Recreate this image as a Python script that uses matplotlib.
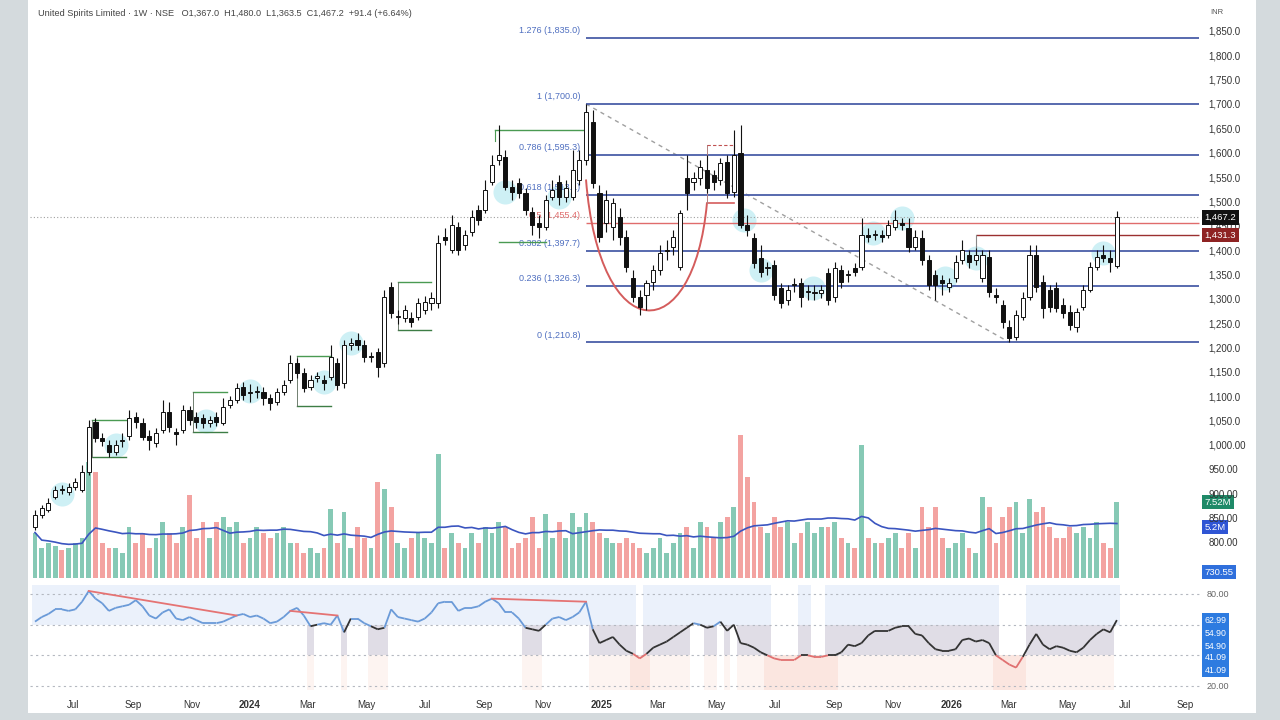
import matplotlib
matplotlib.use('Agg')
import matplotlib.pyplot as plt
import matplotlib.dates as mdates
from matplotlib.path import Path
from matplotlib.patches import PathPatch, Rectangle
from matplotlib.collections import LineCollection
import matplotlib.transforms as mtrans
import numpy as np
import pandas as pd

plt.rcParams['font.family'] = ['Liberation Sans', 'DejaVu Sans']

# ---------------- data ----------------
start_date = '2023-05-22'

opens = [832,856,866,893,910,903,914,908,944,1047,
         1014,1000,986,1008,1018,1057,1045,1018,1004,1031,
         1068,1027,1031,1072,1057,1055,1045,1057,1045,1082,
         1092,1119,1107,1109,1109,1096,1088,1109,1133,1168,
         1148,1119,1137,1133,1139,1168,1127,1205,1215,1205,
         1181,1191,1168,1324,1263,1261,1261,1263,1277,1291,
         1291,1427,1400,1447,1411,1437,1482,1482,1540,1585,
         1591,1530,1538,1517,1478,1456,1447,1509,1540,1509,
         1509,1544,1585,1663,1517,1456,1447,1468,1427,1343,
         1304,1308,1335,1359,1398,1406,1365,1548,1540,1548,
         1564,1554,1544,1581,1519,1599,1452,1425,1384,1363,
         1369,1322,1298,1328,1332,1314,1312,1312,1353,1304,
         1359,1349,1363,1365,1431,1431,1431,1431,1447,1456,
         1445,1406,1425,1380,1349,1339,1324,1343,1380,1390,
         1380,1343,1386,1308,1287,1242,1222,1263,1304,1390,
         1335,1318,1322,1287,1273,1242,1283,1318,1365,1390,
         1384,1367.0]
highs = [866,877,891,916,918,922,932,959,1051,1055,
         1024,1010,1010,1024,1072,1067,1055,1031,1035,1092,
         1088,1035,1082,1080,1067,1063,1059,1067,1096,1100,
         1127,1129,1125,1121,1119,1105,1117,1133,1185,1178,
         1158,1144,1150,1144,1205,1178,1215,1220,1230,1215,
         1191,1199,1318,1335,1277,1287,1273,1302,1306,1314,
         1431,1445,1472,1458,1441,1482,1493,1544,1595,1657,
         1606,1544,1548,1527,1489,1472,1513,1544,1554,1544,
         1606,1606,1700,1688,1534,1523,1507,1486,1441,1359,
         1318,1339,1369,1411,1421,1441,1482,1595,1560,1585,
         1595,1564,1589,1595,1647,1657,1472,1435,1411,1376,
         1380,1332,1328,1343,1343,1328,1328,1328,1363,1376,
         1369,1359,1374,1466,1445,1441,1441,1462,1482,1466,
         1466,1441,1441,1390,1359,1349,1343,1390,1421,1400,
         1404,1400,1400,1322,1298,1257,1277,1314,1411,1411,
         1349,1328,1335,1302,1287,1281,1328,1376,1400,1411,
         1400,1480.0]
lows = [825,850,862,889,899,897,908,903,938,1006,
        998,975,979,996,1010,1035,1010,990,996,1024,
        1027,1000,1024,1041,1035,1035,1037,1039,1041,1076,
        1086,1092,1088,1096,1082,1072,1082,1103,1127,1137,
        1109,1113,1129,1113,1133,1113,1117,1195,1195,1170,
        1170,1140,1160,1261,1248,1253,1242,1257,1269,1277,
        1281,1411,1394,1390,1400,1429,1452,1476,1534,1575,
        1523,1503,1507,1472,1431,1425,1441,1503,1493,1499,
        1503,1534,1575,1528,1417,1437,1421,1411,1355,1294,
        1267,1277,1318,1349,1380,1390,1359,1482,1523,1534,
        1517,1523,1534,1507,1509,1445,1429,1363,1345,1349,
        1298,1281,1287,1314,1283,1298,1298,1302,1287,1294,
        1322,1335,1347,1359,1417,1421,1417,1425,1441,1441,
        1396,1400,1369,1318,1298,1308,1314,1335,1372,1363,
        1369,1335,1304,1291,1240,1210.8,1215,1257,1298,1314,
        1261,1273,1273,1261,1236,1232,1277,1314,1359,1376,
        1355,1363.5]
closes = [856,871,881,908,908,914,924,944,1037,1014,
          1008,986,1000,1010,1055,1047,1016,1010,1024,1068,
          1037,1022,1072,1051,1047,1045,1051,1047,1078,1092,
          1117,1103,1109,1109,1096,1086,1109,1123,1168,1148,
          1117,1133,1141,1127,1181,1123,1205,1209,1205,1181,
          1183,1160,1304,1271,1263,1277,1252,1291,1294,1302,
          1415,1421,1452,1400,1431,1468,1462,1523,1575,1595,
          1530,1519,1517,1482,1452,1447,1503,1523,1509,1527,
          1564,1585,1684,1538,1427,1503,1497,1427,1365,1304,
          1283,1332,1359,1394,1398,1427,1476,1517,1548,1571,
          1527,1540,1579,1517,1595,1452,1441,1374,1355,1363,
          1308,1291,1318,1328,1304,1314,1312,1318,1298,1363,
          1335,1349,1355,1431,1427,1431,1427,1452,1462,1452,
          1406,1427,1380,1328,1328,1332,1332,1376,1400,1376,
          1390,1390,1314,1304,1252,1220,1267,1302,1390,1324,
          1281,1283,1281,1271,1246,1273,1318,1365,1386,1384,
          1376,1467.2]
volumes_m = [4.5,3.0,3.5,3.2,2.8,3.0,3.5,4.0,11.5,10.5,
             3.5,3.0,3.0,2.5,5.0,3.5,4.5,3.0,4.0,5.5,
             4.5,3.5,5.0,8.2,4.0,5.5,4.0,5.5,6.0,5.0,
             5.5,3.5,4.0,5.0,4.5,4.0,4.5,5.0,3.5,3.5,
             2.5,3.0,2.5,3.0,6.8,3.5,6.5,3.0,5.0,4.0,
             3.0,9.5,8.8,7.0,3.5,3.0,4.0,4.5,4.0,3.5,
             12.3,3.0,4.5,3.5,3.0,4.5,3.5,5.0,4.5,5.5,
             5.0,3.0,3.5,4.0,6.0,3.0,6.3,4.0,5.5,4.0,
             6.4,5.0,6.4,5.5,4.5,4.0,3.5,3.5,4.0,3.5,
             3.0,2.5,3.0,4.0,2.5,3.5,4.5,5.0,3.0,5.5,
             5.0,4.0,5.5,6.0,7.0,14.2,10.0,7.5,5.0,4.5,
             6.0,5.0,5.5,3.5,4.5,5.5,4.5,5.0,5.0,5.5,
             4.0,3.5,3.0,13.2,4.0,3.5,3.5,4.0,4.5,3.0,
             4.5,3.0,7.0,5.0,7.0,4.0,3.0,3.5,4.5,3.0,
             2.5,8.0,7.0,3.5,6.0,7.0,7.5,4.5,7.8,6.5,
             7.0,5.0,4.0,4.0,5.0,4.5,5.0,4.0,5.5,3.5,
             3.0,7.52]
rsi_values = [62,65,67,70,70,69,70,75,82,77,
              74,69,71,72,73,76,72,66,64,68,
              70,64,63,65,63,61,61,61,62,64,
              66,67,65,66,64,61,62,65,69,71,
              66,59,60,61,60,66,55,64,64,61,
              59,57,58,70,65,64,63,62,64,68,
              74,75,75,69,71,71,72,75,77,74,
              68,68,64,58,57,56,60,64,65,63,
              65,68,75,57,48,50,52,47,43,41,
              38,41,45,47,49,52,55,58,61,60,
              58,59,62,56,60,48,47,45,42,40,
              38,37,37,37,40,40,39,39,40,40,
              42,47,46,48,53,56,56,56,58,59,
              59,54,53,48,44,43,43,44,50,51,
              49,50,48,40,37,34,32,39,47,54,
              47,44,46,45,43,42,45,50,54,57,
              55,63]

fib_high = 1700.0
fib_low = 1210.8
fib_ratios = [1.276, 1, 0.786, 0.618, 0.5, 0.382, 0.236, 0]
price_ticks = list(range(800, 1851, 50))
month_ticks = pd.date_range('2023-07-01', '2026-09-01', freq='2MS')
rsi_tag_texts = ['62.99', '54.90', '54.90', '41.09', '41.09']
cyan_spots_idx = [4, 12, 25.5, 32, 43, 47, 70, 78, 105.5, 108, 115.8, 124.7, 129, 135.4, 140, 159]
cyan_spots_px = [900, 1000, 1050, 1110, 1130, 1210, 1520, 1510, 1462, 1360, 1322, 1435, 1466, 1343, 1384, 1394]
boxes = [(8.5, 13.5, 1051, 975), (23.5, 28.5, 1109, 1027), (39, 44, 1183, 1080), (54, 59, 1335, 1236)]

# ---------------- prep ----------------
n = len(closes)
dates = pd.date_range(start_date, periods=n, freq='7D')
xd = mdates.date2num(dates)
O = np.array(opens, float); H = np.array(highs, float)
L = np.array(lows, float); C = np.array(closes, float)
V = np.array(volumes_m, float); R = np.array(rsi_values, float)
up = C >= O

def xi(idx):
    return xd[0] + idx * 7.0

jan24 = mdates.date2num(pd.Timestamp('2024-01-01'))
x_left = jan24 - 229.2
x_right = jan24 + 989.6

fig = plt.figure(figsize=(12.8, 7.2), dpi=100, facecolor='#d4dadd')
fig.patches.append(Rectangle((28/1280, 7/720), 1228/1280, 713/720,
                             transform=fig.transFigure, fc='white', ec='none', zorder=-5))

ax = fig.add_axes([30/1280, 1-578/720, 1170/1280, 576/720])
ax_v = ax.twinx()
ax.set_zorder(2); ax_v.set_zorder(1)
ax.patch.set_visible(False)
ax_v.patch.set_visible(False)

ax.set_xlim(x_left, x_right)
ax.set_ylim(726.9, 1909.4)
ax_v.set_ylim(0, 57)

for a in (ax, ax_v):
    for s in a.spines.values():
        s.set_visible(False)
ax_v.set_yticks([])
ax.set_xticks([])

# volume
vcol = np.where(up, '#86c9b5', '#f3a3a1')
ax_v.bar(xd, V, width=5.0, color=vcol, linewidth=0)
vma = pd.Series(V).rolling(20, min_periods=1).mean().values
ax_v.plot(xd, vma, color='#3b55c0', lw=1.2)

# cyan highlight spots
ax.scatter([xi(i) for i in cyan_spots_idx], cyan_spots_px, s=300, color='#a6e4ee',
           alpha=0.55, linewidths=0, zorder=1)

# fib levels
fib_rng = fib_high - fib_low
for r in fib_ratios:
    lvl = fib_low + r * fib_rng
    col = '#e06c6c' if r == 0.5 else '#4a5ea8'
    tcol = '#e06c6c' if r == 0.5 else '#4f6fc0'
    ax.hlines(lvl, xd[82], x_right - 1, color=col, lw=1.3 if r != 0.5 else 1.0, zorder=1.2)
    lab = f"{r:g} ({lvl:,.1f})"
    ax.annotate(lab, (xd[82], lvl), xytext=(-4, 2), textcoords='offset points',
                ha='right', va='bottom', fontsize=6.5, color=tcol, zorder=1.2)

# current price dotted line
ax.axhline(C[-1], color='#a0a0a0', ls=(0, (1, 2)), lw=0.8, zorder=1)
# resistance line
ax.hlines(1431.3, xd[140], x_right - 1, color='#9b3030', lw=1.0, zorder=1.2)
ax.plot([xd[140], xd[140]], [1431.3, 1392], color='#888', lw=0.8, zorder=1.2)
# diagonal fib trend
ax.plot([xd[82], xd[145]], [fib_high, fib_low], color='#a0a0a0', ls=(0, (3, 3)), lw=1.0, zorder=1.1)

# cup and handle
verts = [(xd[82], 1545), (xd[84], 1195), (xd[98], 1195), (xd[100], 1497)]
cup = PathPatch(Path(verts, [Path.MOVETO, Path.CURVE4, Path.CURVE4, Path.CURVE4]),
                fc='none', ec='#d45c5c', lw=1.4, zorder=1.3)
ax.add_patch(cup)
ax.plot([xd[100], xd[104]], [1497, 1497], color='#d45c5c', lw=1.2, zorder=1.3)
ax.plot([xd[100], xd[100]], [1497, 1616], color='#b08080', lw=0.7, zorder=1.3)
ax.plot([xd[100], xd[104]], [1616, 1616], color='#c05050', lw=0.8, ls=(0, (3, 2)), zorder=1.3)
ax.plot([xd[104], xd[104]], [1616, 1604], color='#c05050', lw=0.8, zorder=1.3)

# green consolidation boxes
for (a0, a1, top, bot) in boxes:
    ax.plot([xi(a0), xi(a1)], [top, top], color='#4a9a52', lw=1.0, zorder=1.3)
    ax.plot([xi(a0), xi(a1)], [bot, bot], color='#3d7d45', lw=1.0, zorder=1.3)
    ax.plot([xi(a0), xi(a0)], [bot, top], color='#5a6a5a', lw=0.6, zorder=1.3)
ax.plot([xi(68.5), xi(81.5)], [1647, 1647], color='#4a9a52', lw=1.0, zorder=1.3)
ax.plot([xi(68.5), xi(68.5)], [1647, 1625], color='#4a9a52', lw=0.8, zorder=1.3)
ax.plot([xi(69), xi(76)], [1417, 1417], color='#4a9a52', lw=1.0, zorder=1.3)

# candles
ax.vlines(xd, L, H, color='#111', lw=0.8, zorder=3)
body_bot = np.minimum(O, C)
body_h = np.maximum(np.abs(C - O), 2.5)
ax.bar(xd, body_h, bottom=body_bot, width=4.3,
       color=np.where(up, 'white', '#111'), edgecolor='#111', linewidth=0.7, zorder=4)

# price axis on right
ax.yaxis.tick_right()
ax.set_yticks(price_ticks)
ax.set_yticklabels([f"{v:,.1f}" if v > 1000 else f"{v:,.2f}" for v in price_ticks])
ax.tick_params(axis='y', length=0, pad=6, labelsize=7, labelcolor='#333')

trans_p = mtrans.blended_transform_factory(ax.transAxes, ax.transData)
def tag(axis, trans, y, txt, fc):
    axis.text(1.004, y, txt, transform=trans, fontsize=6.8, color='white', va='center',
              ha='left', zorder=10, clip_on=False,
              bbox=dict(boxstyle='square,pad=0.28', fc=fc, ec='none'))

tag(ax, trans_p, C[-1], f"{C[-1]:,.1f}", '#111111')
tag(ax, trans_p, 1431.3, '1,431.3', '#8e2323')
tag(ax, trans_p, 739, '730.55', '#2f6fdc')
trans_v = mtrans.blended_transform_factory(ax_v.transAxes, ax_v.transData)
ax_v.text(1.004, V[-1], f"{V[-1]:.2f}M", transform=trans_v, fontsize=6.8, color='white',
          va='center', ha='left', zorder=10, clip_on=False,
          bbox=dict(boxstyle='square,pad=0.28', fc='#1f8a68', ec='none'))
ax_v.text(1.004, vma[-1] - 0.35, '5.2M', transform=trans_v, fontsize=6.8,
          color='white', va='center', ha='left', zorder=10, clip_on=False,
          bbox=dict(boxstyle='square,pad=0.28', fc='#2f55d4', ec='none'))

# header
fig.text(38/1280, 1-13/720,
         'United Spirits Limited · 1W · NSE   O1,367.0  H1,480.0  L1,363.5  C1,467.2  +91.4 (+6.64%)',
         fontsize=6.6, color='#444', va='center', ha='left')
fig.text(1210/1280, 1-13/720, 'INR', fontsize=5.5, color='#555', va='center', ha='left')

# ---------------- RSI pane ----------------
ax_r = fig.add_axes([30/1280, 1-690/720, 1170/1280, 105/720])
ax_r.set_zorder(1)
ax_r.patch.set_visible(False)
ax_r.set_xlim(x_left, x_right)
ax_r.set_ylim(17.4, 85.9)
for s in ax_r.spines.values():
    s.set_visible(False)
ax_r.set_yticks([])

top_mask = R >= 40
mid_mask = (R >= 40) & (R < 60)
low_soft = R < 60
low_hard = R < 42
ax_r.bar(xd[top_mask], 25.9, bottom=60, width=7.0, color='#ebf1fb', linewidth=0, zorder=0)
ax_r.bar(xd[mid_mask], 20, bottom=40, width=7.0, color='#e0dde6', linewidth=0, zorder=0)
ax_r.bar(xd[low_soft], 22.6, bottom=17.4, width=7.0, color='#fdf4f1', linewidth=0, zorder=0)
ax_r.bar(xd[low_hard], 22.6, bottom=17.4, width=7.0, color='#fbe6e0', linewidth=0, zorder=0)

for lv in (80, 60, 40, 20):
    ax_r.axhline(lv, color='#b4b8c0', ls=(0, (2, 3)), lw=0.8, zorder=1)

pts = np.column_stack([xd, R])
segs = np.stack([pts[:-1], pts[1:]], axis=1)
mids = (R[:-1] + R[1:]) / 2
seg_cols = ['#6a9ad8' if m >= 60 else ('#e07070' if m < 40 else '#333333') for m in mids]
ax_r.add_collection(LineCollection(segs, colors=seg_cols, linewidths=1.3, zorder=3))

for (a0, a1) in [(8, 30), (38, 45), (68, 82)]:
    ax_r.plot([xd[a0], xd[a1]], [R[a0], R[a1]], color='#e57373', lw=1.3, zorder=4)

trans_r = mtrans.blended_transform_factory(ax_r.transAxes, ax_r.transData)
ax_r.text(1.006, 80, '80.00', transform=trans_r, fontsize=6.5, color='#666', va='center')
ax_r.text(1.006, 20, '20.00', transform=trans_r, fontsize=6.5, color='#666', va='center')
for txt, yv in zip(rsi_tag_texts, [63.0, 54.5, 46.1, 38.3, 30.4]):
    ax_r.text(1.004, yv, txt, transform=trans_r, fontsize=6.3, color='white', va='center',
              ha='left', clip_on=False,
              bbox=dict(boxstyle='square,pad=0.3', fc='#2d7be0', ec='none'))

ax_r.set_xticks(mdates.date2num(month_ticks))
labels = [str(d.year) if d.month == 1 else d.strftime('%b') for d in month_ticks]
ax_r.set_xticklabels(labels)
ax_r.tick_params(axis='x', length=0, pad=7, labelsize=7, labelcolor='#333')
for t, d in zip(ax_r.get_xticklabels(), month_ticks):
    if d.month == 1:
        t.set_fontweight('bold')

fig.savefig('out.png', dpi=100, facecolor=fig.get_facecolor())
